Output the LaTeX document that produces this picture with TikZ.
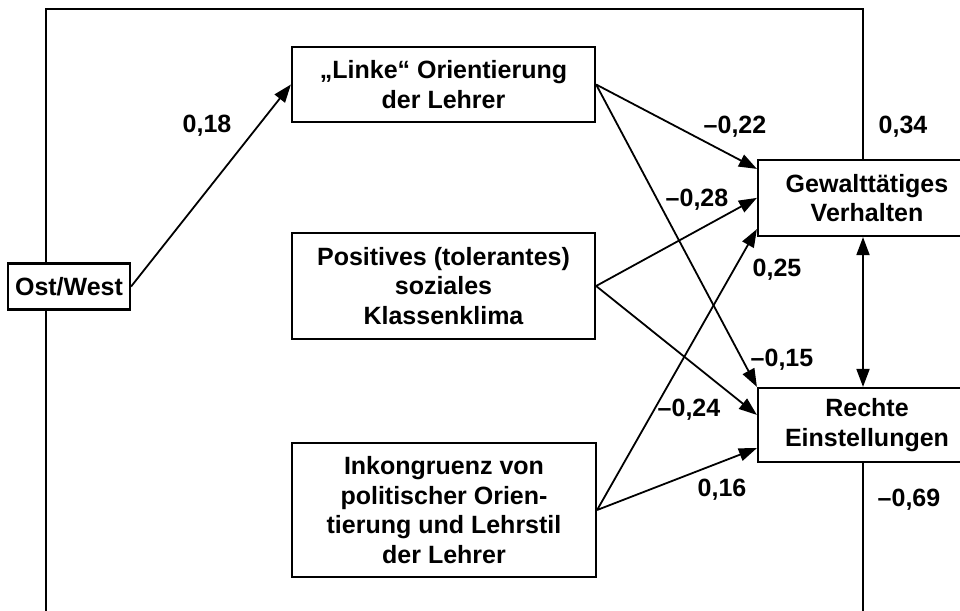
\documentclass[tikz,border=0pt]{standalone}
\usepackage{fontspec}
\setmainfont{Liberation Sans}
\usetikzlibrary{arrows.meta}
\begin{document}
\begin{tikzpicture}[x=1pt,y=-1pt,
 box/.style={draw,line width=2.2pt,fill=white,align=center,inner sep=0pt,font=\fontsize{25}{29.5}\selectfont\bfseries},
 lab/.style={font=\fontsize{25}{29.5}\selectfont\bfseries,inner sep=0pt},
 tip/.style={},
 arr/.style={line width=1.8pt,-{Triangle[length=18pt,width=13pt]}},
 darr/.style={line width=1.8pt,{Triangle[length=18pt,width=13pt]}-{Triangle[length=18pt,width=13pt]}},
 frameline/.style={line width=2pt}]
\useasboundingbox (0,0) rectangle (960,610);
% frame
\coordinate (ftl) at (46,9);
\coordinate (ftr) at (863,9);
\coordinate (fbl) at (46,612);
% nodes
\node[box,minimum width=122pt,minimum height=46pt] (ost) at (69,286.5) {Ost/West};
\node[box,minimum width=303pt,minimum height=75pt] (linke) at (443.5,84.5) {„Linke“ Orientierung\\der Lehrer};
\node[box,minimum width=303pt,minimum height=106pt] (pos) at (443.5,286) {Positives (tolerantes)\\soziales\\Klassenklima};
\node[box,minimum width=304pt,minimum height=134pt] (ink) at (444,510) {Inkongruenz von\\politischer Orien-\\tierung und Lehrstil\\der Lehrer};
\node[box,minimum width=218pt,minimum height=76pt] (gew) at (867,198) {Gewalttätiges\\Verhalten};
\node[box,minimum width=218pt,minimum height=74pt] (rec) at (867,425) {Rechte\\Einstellungen};
\draw[frameline] (ftl |- ost.north) -- (ftl) -- (ftr) -- (ftr |- gew.north);
\draw[frameline] (ftl |- ost.south) -- (fbl);
\draw[frameline] (ftr |- rec.south) -- (ftr |- fbl);
% arrows
\draw[arr] (ost.east) -- (linke.west);
\draw[arr] (linke.east) -- ([yshift=-10pt]gew.north west);
\draw[arr] (linke.east) -- (rec.north west);
\draw[arr] (pos.east) -- ([yshift=-39pt]gew.north west);
\draw[arr] (pos.east) -- ([yshift=-28pt]rec.north west);
\draw[arr] (ink.east) -- ([yshift=8pt]gew.south west);
\draw[arr] (ink.east) -- ([yshift=15pt]rec.south west);
\draw[darr] (ftr |- gew.south) -- (ftr |- rec.north);
% labels
\node[lab] (l1) at (207,126) {0,18};
\node[lab] (l2) at (735,127) {–0,22};
\node[lab] (l3) at (903,127) {0,34};
\node[lab] (l4) at (697,200) {–0,28};
\node[lab] (l5) at (777,270) {0,25};
\node[lab] (l6) at (782,360) {–0,15};
\node[lab] (l7) at (689,410) {–0,24};
\node[lab] (l8) at (722,490) {0,16};
\node[lab] (l9) at (909,500) {–0,69};
\end{tikzpicture}
\end{document}
